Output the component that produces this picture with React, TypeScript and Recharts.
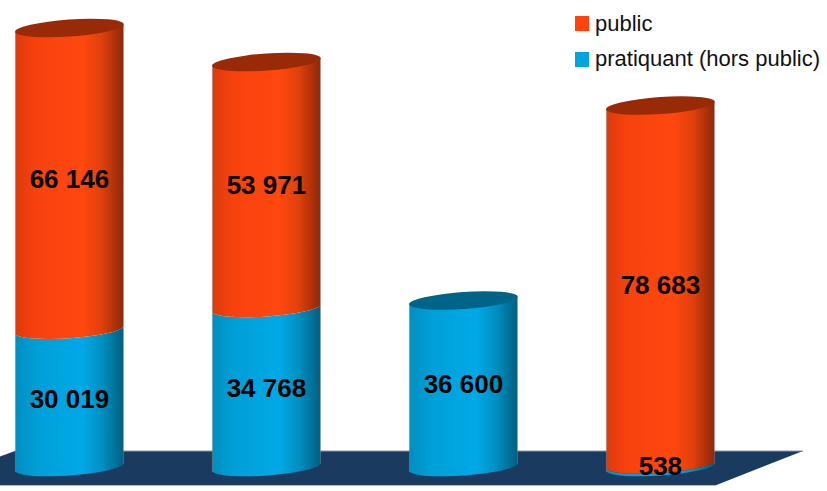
import React from "react";
import { BarChart, Bar, XAxis, YAxis, Legend, LabelList } from "recharts";

const categories = ["A", "B", "C", "D"];
const publicValues = [66146, 53971, null, 78683];
const pratiquantValues = [30019, 34768, 36600, 538];

const chartData = categories.map((name, i) => ({
    name,
    public: publicValues[i],
    pratiquant: pratiquantValues[i],
}));

const ORANGE = "#ff420e";
const BLUE = "#00a5e0";
const ORANGE_CAP = "#982a08";
const BLUE_CAP = "#006488";

const RX = 54.5;
const RY = 8.5;
const TILT = -4;
const DY = 3.8; // vertical offset of the ellipse ends caused by the tilt

const formatValue = (v: any) =>
    v ? String(v).replace(/\B(?=(\d{3})+$)/g, " ") : "";

const Cylinder = ({ x, y, width, height, gradient, cap, isTop }: any) => {
    if (!height) return null;
    const right = x + width;
    const bottom = y + height;
    const body = [
        `M${x},${y + DY}`,
        `L${x},${bottom + DY}`,
        `A${RX},${RY} ${TILT} 0 0 ${right},${bottom - DY}`,
        `L${right},${y - DY}`,
        `A${RX},${RY} ${TILT} 0 1 ${x},${y + DY}`,
        "Z",
    ].join(" ");
    return (
        <g>
            <path d={body} fill={`url(#${gradient})`} />
            <line x1={x} y1={y + DY} x2={x} y2={bottom + DY} stroke="#8a8a8a" strokeOpacity={0.5} />
            <line x1={right} y1={y - DY} x2={right} y2={bottom - DY} stroke="#8a8a8a" strokeOpacity={0.5} />
            {isTop && (
                <ellipse
                    cx={x + width / 2}
                    cy={y}
                    rx={RX}
                    ry={RY}
                    transform={`rotate(${TILT} ${x + width / 2} ${y})`}
                    fill={cap}
                />
            )}
        </g>
    );
};

const LegendBox = ({ payload }: any) => (
    <div style={{ fontFamily: "'Liberation Sans'", fontSize: 22, color: "#111" }}>
        {[...(payload || [])].reverse().map((item: any) => (
            <div key={item.value} style={{ display: "flex", alignItems: "center", height: 35.5, whiteSpace: "nowrap" }}>
                <span style={{ width: 14, height: 15, background: item.color, marginRight: 6 }} />
                {item.value}
            </div>
        ))}
    </div>
);

export default function App() {
    return (
        <div style={{ position: "absolute", left: 0, top: 0, width: 827, height: 491, background: "#fff" }}>
            <svg width={827} height={491} style={{ position: "absolute", left: 0, top: 0 }}>
                <polygon points="0,456.5 15,451 803,451 716.5,485 0,485" fill="#1b3a5f" />
                <line x1={15} y1={451} x2={803} y2={451} stroke="#8d949c" strokeWidth={1} />
                <line x1={0} y1={485.5} x2={716} y2={485.5} stroke="#b4b8bd" strokeWidth={1} />
            </svg>
            <div style={{ position: "absolute", left: 0, top: 0 }}>
                <BarChart
                    width={827}
                    height={491}
                    data={chartData}
                    margin={{ top: 10.5, right: 68.6, bottom: 23, left: -29.6 }}
                >
                    <defs>
                        <linearGradient id="orangeBody" x1="0" y1="0" x2="1" y2="0">
                            <stop offset="0" stopColor="#dc3b0c" />
                            <stop offset="0.2" stopColor="#f8420e" />
                            <stop offset="0.62" stopColor="#ff480e" />
                            <stop offset="0.8" stopColor="#e0400c" />
                            <stop offset="1" stopColor="#8e2808" />
                        </linearGradient>
                        <linearGradient id="blueBody" x1="0" y1="0" x2="1" y2="0">
                            <stop offset="0" stopColor="#008fc0" />
                            <stop offset="0.2" stopColor="#009fd8" />
                            <stop offset="0.62" stopColor="#00a9e6" />
                            <stop offset="0.8" stopColor="#0090c2" />
                            <stop offset="1" stopColor="#005f80" />
                        </linearGradient>
                    </defs>
                    <XAxis dataKey="name" hide />
                    <YAxis hide domain={[0, 100000]} />
                    <Legend
                        layout="vertical"
                        verticalAlign="middle"
                        align="center"
                        wrapperStyle={{ left: 575, top: 6, width: 252 }}
                        content={<LegendBox />}
                    />
                    <Bar
                        dataKey="pratiquant"
                        name="pratiquant (hors public)"
                        stackId="total"
                        fill={BLUE}
                        barSize={108}
                        isAnimationActive={false}
                        shape={(p: any) => (
                            <Cylinder {...p} gradient="blueBody" cap={BLUE_CAP} isTop={!p.payload.public} />
                        )}
                    >
                        <LabelList
                            dataKey="pratiquant"
                            position="center"
                            formatter={formatValue}
                            fill="#000"
                            dy={-1}
                            style={{ fontFamily: "'Liberation Sans'", fontSize: 26, fontWeight: "bold" }}
                        />
                    </Bar>
                    <Bar
                        dataKey="public"
                        name="public"
                        stackId="total"
                        fill={ORANGE}
                        barSize={108}
                        isAnimationActive={false}
                        shape={(p: any) => <Cylinder {...p} gradient="orangeBody" cap={ORANGE_CAP} isTop />}
                    >
                        <LabelList
                            dataKey="public"
                            position="center"
                            formatter={formatValue}
                            fill="#000"
                            dy={-1}
                            style={{ fontFamily: "'Liberation Sans'", fontSize: 26, fontWeight: "bold" }}
                        />
                    </Bar>
                </BarChart>
            </div>
        </div>
    );
}
